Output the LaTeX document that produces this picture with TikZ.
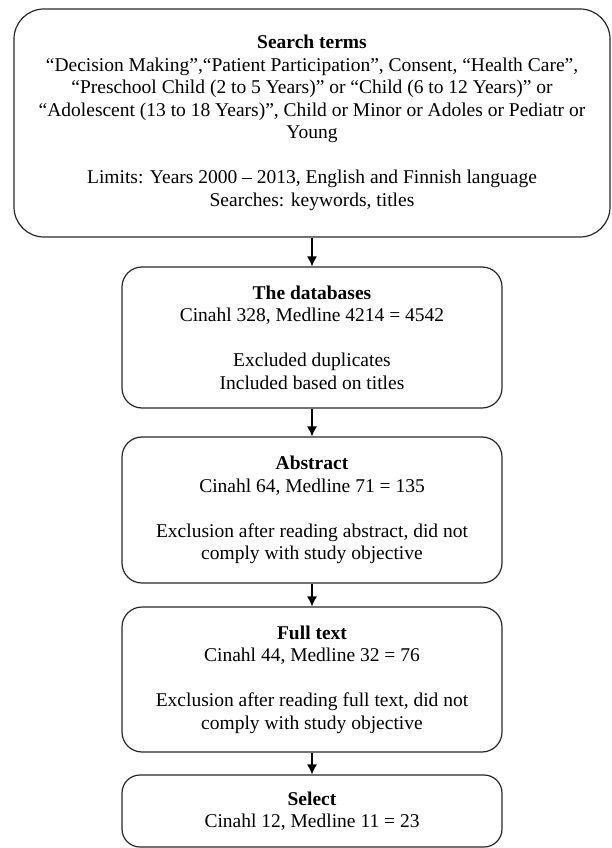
\documentclass[tikz,border=0pt]{standalone}
\usepackage{fontspec}
\setmainfont{Liberation Serif}
\usepackage{tikz}
\usetikzlibrary{arrows.meta,positioning}

\begin{document}
\begin{tikzpicture}[x=1pt,y=-1pt,
    >={Latex[length=10pt,width=10pt]},
    font=\fontsize{19.5}{22.5}\selectfont,
    box/.style={draw=black!85, line width=1.2pt, rounded corners=20pt,
      align=center, inner sep=0pt, minimum width=380pt},
    line width=1.2pt]
    \useasboundingbox (0,0) rectangle (611,848);
    \node[box, rounded corners=30pt, minimum width=596pt, minimum height=228pt]
      (s_0) at (312,123) {\textbf{Search terms}\\
      “Decision Making”,“Patient Participation”, Consent, “Health Care”,\\
      “Preschool Child (2 to 5 Years)” or “Child (6 to 12 Years)” or\\
      “Adolescent (13 to 18 Years)”, Child or Minor or Adoles or Pediatr or\\
      Young\\[22.5pt]
      Limits: Years 2000 – 2013, English and Finnish language\\
      Searches: keywords, titles};
    \node[box, minimum height=141pt] (s_1) at (312,337.5) {\textbf{The databases}\\
      Cinahl 328, Medline 4214 = 4542\\[22.5pt]
      Excluded duplicates\\ Included based on titles};
    \node[box, minimum height=146pt] (s_2) at (312,510) {\textbf{Abstract}\\
      Cinahl 64, Medline 71 = 135\\[22.5pt]
      Exclusion after reading abstract, did not\\ comply with study objective};
    \node[box, minimum height=145pt] (s_3) at (312,679.5) {\textbf{Full text}\\
      Cinahl 44, Medline 32 = 76\\[22.5pt]
      Exclusion after reading full text, did not\\ comply with study objective};
    \node[box, rounded corners=18pt, minimum height=72pt] (s_4) at (312,811) {\textbf{Select}\\
      Cinahl 12, Medline 11 = 23};
    \path[->]
    (s_0) edge (s_1)
    (s_1) edge (s_2)
    (s_2) edge (s_3)
    (s_3) edge (s_4);
\end{tikzpicture}
\end{document}
